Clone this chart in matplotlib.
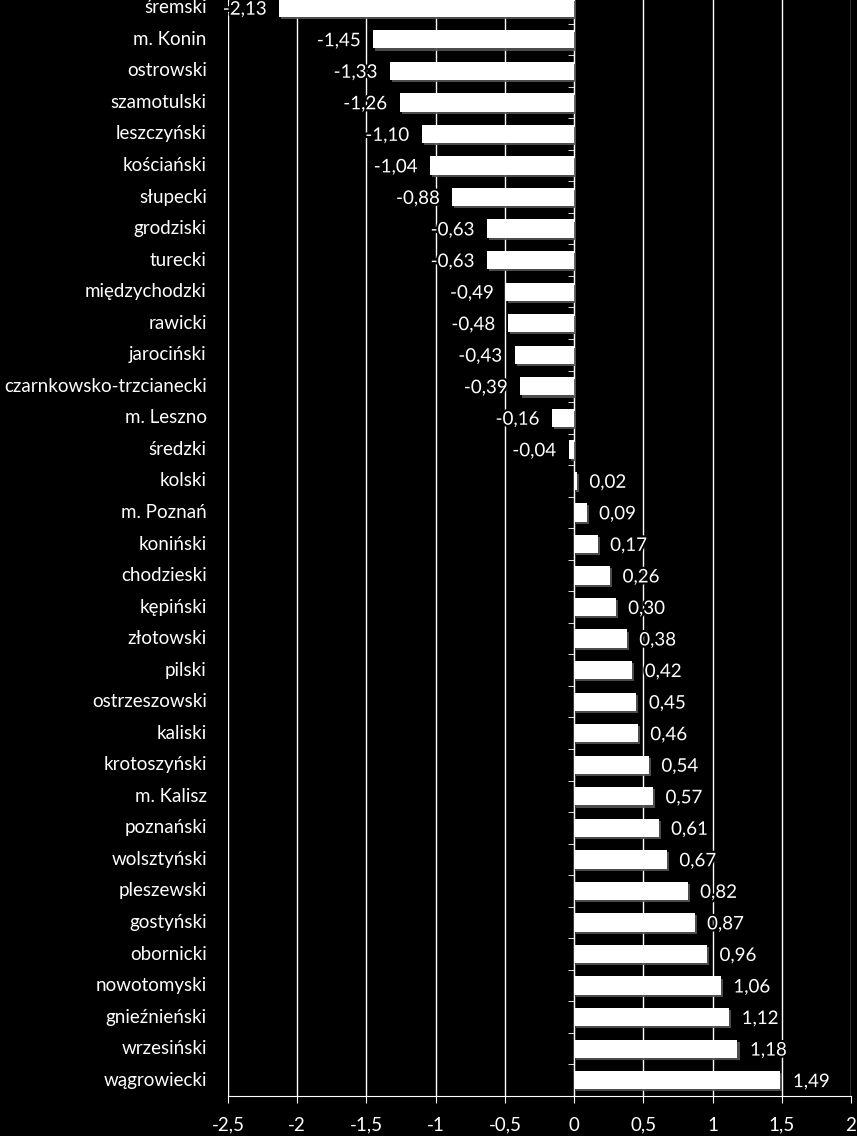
import numpy as np
import matplotlib.pyplot as plt
import matplotlib.patheffects as pe
from matplotlib.transforms import blended_transform_factory

powiaty = ["śremski", "m. Konin", "ostrowski", "szamotulski", "leszczyński",
           "kościański", "słupecki", "grodziski", "turecki", "międzychodzki",
           "rawicki", "jarociński", "czarnkowsko-trzcianecki", "m. Leszno",
           "średzki", "kolski", "m. Poznań", "koniński", "chodzieski",
           "kępiński", "złotowski", "pilski", "ostrzeszowski", "kaliski",
           "krotoszyński", "m. Kalisz", "poznański", "wolsztyński",
           "pleszewski", "gostyński", "obornicki", "nowotomyski",
           "gnieźnieński", "wrzesiński", "wągrowiecki"]
wartosci = [-2.13, -1.45, -1.33, -1.26, -1.10, -1.04, -0.88, -0.63, -0.63,
            -0.49, -0.48, -0.43, -0.39, -0.16, -0.04, 0.02, 0.09, 0.17, 0.26,
            0.30, 0.38, 0.42, 0.45, 0.46, 0.54, 0.57, 0.61, 0.67, 0.82, 0.87,
            0.96, 1.06, 1.12, 1.18, 1.49]
xticks = [-2.5, -2, -1.5, -1, -0.5, 0, 0.5, 1, 1.5, 2]

plt.rcParams['font.family'] = ['Lato', 'DejaVu Sans']

fig = plt.figure(figsize=(8.57, 11.36), dpi=100, facecolor="black")
ax = fig.add_axes([228/857, 40/1136, 623/857, 1104/1136])
ax.set_facecolor("black")

n = len(powiaty)
y = np.arange(n)
shadow = [pe.SimplePatchShadow(offset=(1.5, -1.5), shadow_rgbFace="#555555", alpha=0.9), pe.Normal()]
bars = ax.barh(y, wartosci, height=0.58, color="white", zorder=3)
for b in bars:
    b.set_path_effects(shadow)

ax.set_xlim(-2.5, 2)
ax.set_ylim(n - 0.5, -0.5)
ax.set_xticks(xticks)
ax.set_xticklabels([f"{t:g}".replace(".", ",") for t in xticks])
ax.grid(axis="x", color="white", linewidth=1, zorder=0)

for s in ["top", "right"]:
    ax.spines[s].set_visible(False)
ax.spines["bottom"].set_color("white")
ax.spines["left"].set_color("white")
ax.spines["left"].set_position(("data", 0))
ax.spines["left"].set_zorder(2)
ax.tick_params(axis="x", colors="white", labelsize=13.5, length=5, pad=10)
ax.set_yticks(y)
ax.set_yticklabels([])
ax.tick_params(axis="y", which="major", length=0)
ax.set_yticks(np.arange(n + 1) - 0.5, minor=True)
ax.tick_params(axis="y", which="minor", length=4, color="white")

trans = blended_transform_factory(ax.transAxes, ax.transData)
for i, name in enumerate(powiaty):
    ax.text(-0.034, i, name, transform=trans, ha="right", va="center",
            color="white", fontsize=13.5)

glow = [pe.withStroke(linewidth=3, foreground="black")]
for i, v in enumerate(wartosci):
    txt = f"{v:.2f}".replace(".", ",")
    if v < 0:
        ax.annotate(txt, (v, i), xytext=(-9, -1), textcoords="offset points",
                    ha="right", va="center", color="white", fontsize=13.5,
                    path_effects=glow, zorder=5)
    else:
        ax.annotate(txt, (v, i), xytext=(9, -1), textcoords="offset points",
                    ha="left", va="center", color="white", fontsize=13.5,
                    path_effects=glow, zorder=5)

fig.savefig("out.png", facecolor="black")
